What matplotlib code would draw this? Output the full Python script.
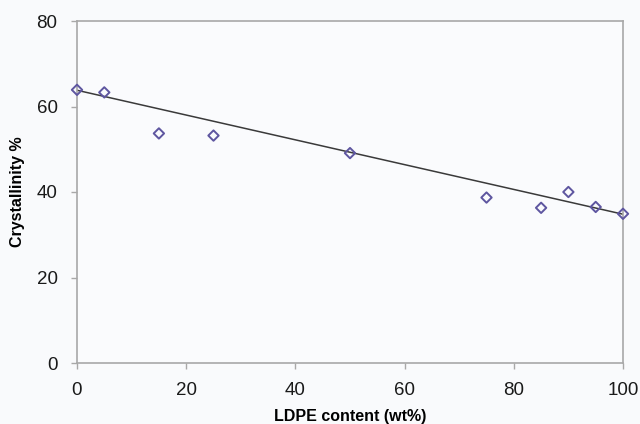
import matplotlib
matplotlib.use('Agg')
import matplotlib.pyplot as plt
import numpy as np

# Data
ldpe = [0, 5, 15, 25, 50, 75, 85, 90, 95, 100]
crystallinity = [63.9, 63.3, 53.7, 53.2, 49.1, 38.7, 36.3, 40.0, 36.5, 34.9]
trend_intercept = 63.8
trend_slope = -0.29
x_ticks = [0, 20, 40, 60, 80, 100]
y_ticks = [0, 20, 40, 60, 80]

plt.rcParams['font.family'] = ['Liberation Sans', 'DejaVu Sans']

fig = plt.figure(figsize=(6.4, 4.24), dpi=100)
fig.patch.set_facecolor('#f9fafc')
ax = fig.add_axes([77 / 640, 1 - 363 / 424, (623 - 77) / 640, (363 - 21) / 424])
ax.set_facecolor('#fafbfd')

# Linear trend line
xl = np.array([min(ldpe), max(ldpe)])
ax.plot(xl, trend_intercept + trend_slope * xl, color='#3a3a3a', lw=1.1, zorder=2)

ax.scatter(ldpe, crystallinity, marker='D', s=28, facecolors='none',
           edgecolors='#5e56a0', linewidths=1.4, zorder=3, clip_on=False)

ax.set_xlim(0, 100)
ax.set_ylim(0, 80)
ax.set_xticks(x_ticks)
ax.set_yticks(y_ticks)
for s in ax.spines.values():
    s.set_color('#a8a8a8')
    s.set_linewidth(1.2)
ax.tick_params(colors='#a8a8a8', labelcolor='#1a1a1a', labelsize=13.5,
               length=4, width=1, direction='out')
ax.tick_params(axis='x', pad=10)
ax.tick_params(axis='y', pad=10)

ax.set_xlabel('LDPE content (wt%)', fontsize=11.5, fontweight='bold', labelpad=7)
ax.set_ylabel('Crystallinity %', fontsize=11.5, fontweight='bold', labelpad=8)

fig.savefig('out.png', dpi=100, facecolor=fig.get_facecolor())
